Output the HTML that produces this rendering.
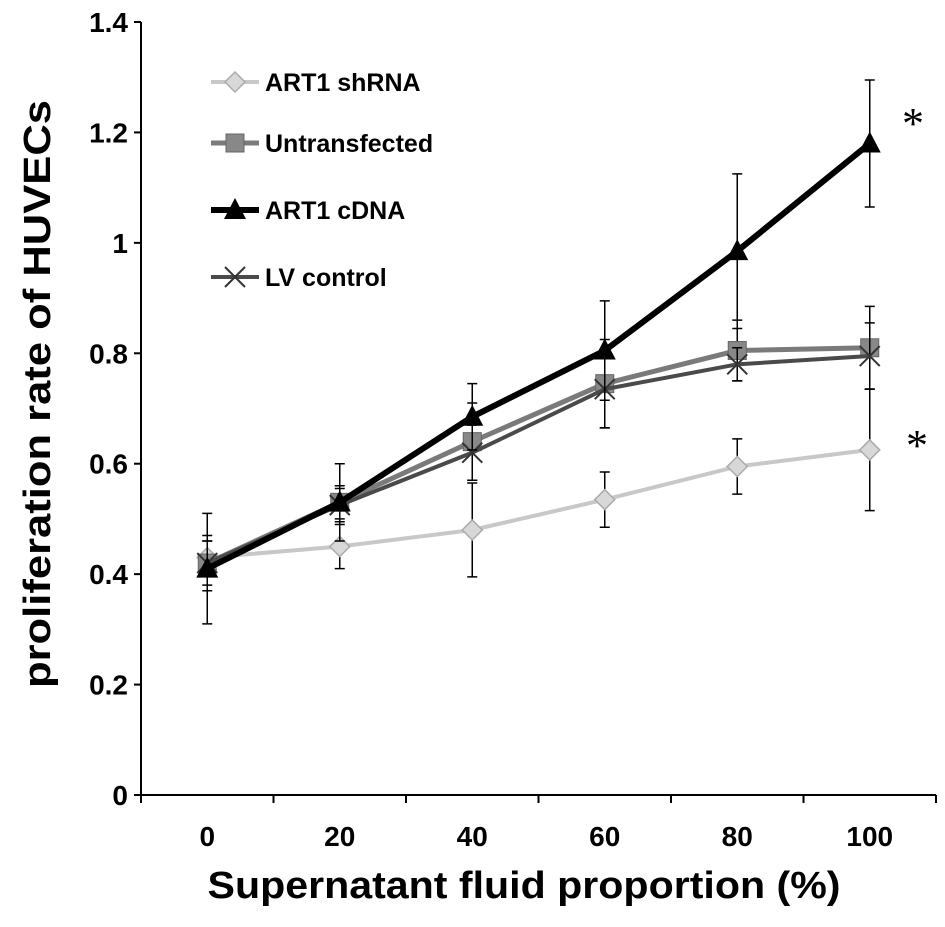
<!DOCTYPE html>
<html><head><meta charset="utf-8"><style>
html,body{margin:0;padding:0;background:#fff;}
svg{display:block;font-family:"Liberation Sans",Arial,sans-serif;}
</style></head><body>
<svg id="chart" width="945" height="927" viewBox="0 0 945 927">
<g id="axes"></g>
<g id="series"></g>
<g id="legend"></g>
<text x="50" y="394" transform="rotate(-90 50 394)" text-anchor="middle" font-size="38" font-weight="bold" textLength="588" lengthAdjust="spacingAndGlyphs">proliferation rate of HUVECs</text>
<text x="524" y="898" text-anchor="middle" font-size="38" font-weight="bold" textLength="633" lengthAdjust="spacingAndGlyphs">Supernatant  fluid  proportion (%)</text>
<text x="913" y="138" text-anchor="middle" font-size="44" font-family="Liberation Serif,serif">*</text>
<text x="917" y="460" text-anchor="middle" font-size="44" font-family="Liberation Serif,serif">*</text>
</svg>
<script>
const categories = ["0","20","40","60","80","100"];
const yTicks = [0,0.2,0.4,0.6,0.8,1,1.2,1.4];
const yTickLabels = ["0","0.2","0.4","0.6","0.8","1","1.2","1.4"];
const shrnaValues = [0.43,0.45,0.48,0.535,0.595,0.625];
const shrnaErrors = [0.03,0.04,0.085,0.05,0.05,0.11];
const untransValues = [0.42,0.53,0.64,0.745,0.805,0.81];
const untransErrors = [0.04,0.03,0.07,0.08,0.055,0.075];
const cdnaValues = [0.41,0.53,0.685,0.805,0.985,1.18];
const cdnaErrors = [0.1,0.07,0.06,0.09,0.14,0.115];
const lvValues = [0.42,0.525,0.62,0.735,0.78,0.795];
const lvErrors = [0.05,0.03,0.05,0.07,0.03,0.06];

const NS="http://www.w3.org/2000/svg";
const x0=141, step=132.5, yBase=795;
function xPos(i){return x0+step*(i+0.5);}
function yPos(v){return yBase - v*(773/1.4);}
function mk(tag,attrs,parent){const e=document.createElementNS(NS,tag);for(const k in attrs)e.setAttribute(k,attrs[k]);parent.appendChild(e);return e;}
const axes=document.getElementById('axes');
let a=mk('line',{x1:x0,y1:yPos(1.4),x2:x0,y2:yBase,stroke:'#000','stroke-width':2},axes);


a=mk('line',{x1:x0,y1:yBase,x2:x0+step*6,y2:yBase,stroke:'#000','stroke-width':2},axes);


yTicks.forEach((v,i)=>{
  const t=mk('line',{x1:x0-7,y1:yPos(v),x2:x0,y2:yPos(v),stroke:'#000','stroke-width':2},axes);
  
  
  const l=mk('text',{x:x0-13,y:yPos(v)+10,'text-anchor':'end','font-size':28,'font-weight':'bold'},axes);
  l.textContent=yTickLabels[i];
  
  
});
for(let i=0;i<=categories.length;i++){
  const t=mk('line',{x1:x0+step*i,y1:yBase,x2:x0+step*i,y2:yBase+8,stroke:'#000','stroke-width':2},axes);
  
  
}
categories.forEach((c,i)=>{
  const l=mk('text',{x:xPos(i),y:yBase+51,'text-anchor':'middle','font-size':28,'font-weight':'bold'},axes);
  l.textContent=c;
  
  
});
function marker(type,x,y,g){
  if(type==='diamond') return mk('polygon',{points:`${x},${y-10} ${x+10},${y} ${x},${y+10} ${x-10},${y}`,fill:'#d8d8d8',stroke:'#aaa','stroke-width':1.5},g);
  if(type==='square') return mk('rect',{x:x-9,y:y-9,width:18,height:18,fill:'#888',stroke:'#666'},g);
  if(type==='triangle') return mk('polygon',{points:`${x},${y-12} ${x+11},${y+9} ${x-11},${y+9}`,fill:'#000'},g);
  return mk('path',{d:`M${x-10},${y-10}L${x+10},${y+10}M${x+10},${y-10}L${x-10},${y+10}`,stroke:'#333','stroke-width':2,fill:'none'},g);
}
const seriesDefs=[
 {name:'shrna',vals:shrnaValues,errs:shrnaErrors,color:'#c8c8c8',w:4,m:'diamond'},
 {name:'untransfected',vals:untransValues,errs:untransErrors,color:'#7a7a7a',w:5,m:'square'},
 {name:'lv-control',vals:lvValues,errs:lvErrors,color:'#4a4a4a',w:4,m:'x'},
 {name:'cdna',vals:cdnaValues,errs:cdnaErrors,color:'#000',w:6,m:'triangle'}
];
const sl=document.getElementById('series');
seriesDefs.forEach(s=>{
  const g=mk('g',{},sl);
  
  
  s.vals.forEach((v,i)=>{
    const e=mk('path',{d:`M${xPos(i)},${yPos(v-s.errs[i])}V${yPos(v+s.errs[i])}M${xPos(i)-5},${yPos(v-s.errs[i])}h10M${xPos(i)-5},${yPos(v+s.errs[i])}h10`,stroke:'#000','stroke-width':1.5,fill:'none'},g);
    
    
  });
  const ln=mk('polyline',{points:s.vals.map((v,i)=>xPos(i)+','+yPos(v)).join(' '),fill:'none',stroke:s.color,'stroke-width':s.w},g);
  
  
  s.vals.forEach((v,i)=>{
    const m=marker(s.m,xPos(i),yPos(v),g);
    
    
  });
});
const lg=document.getElementById('legend');
const legendItems=[['ART1 shRNA',0,82],['Untransfected',1,143],['ART1 cDNA',3,210],['LV control',2,277]];
legendItems.forEach(([lab,si,y])=>{
  const s=seriesDefs[si];
  const g=mk('g',{},lg);
  
  
  mk('line',{x1:211,y1:y,x2:259,y2:y,stroke:s.color,'stroke-width':s.w},g);
  marker(s.m,235,y,g);
  const t=mk('text',{x:265,y:y+9,'font-size':25,'font-weight':'bold'},g);
  t.textContent=lab;
});
</script>
</body></html>
